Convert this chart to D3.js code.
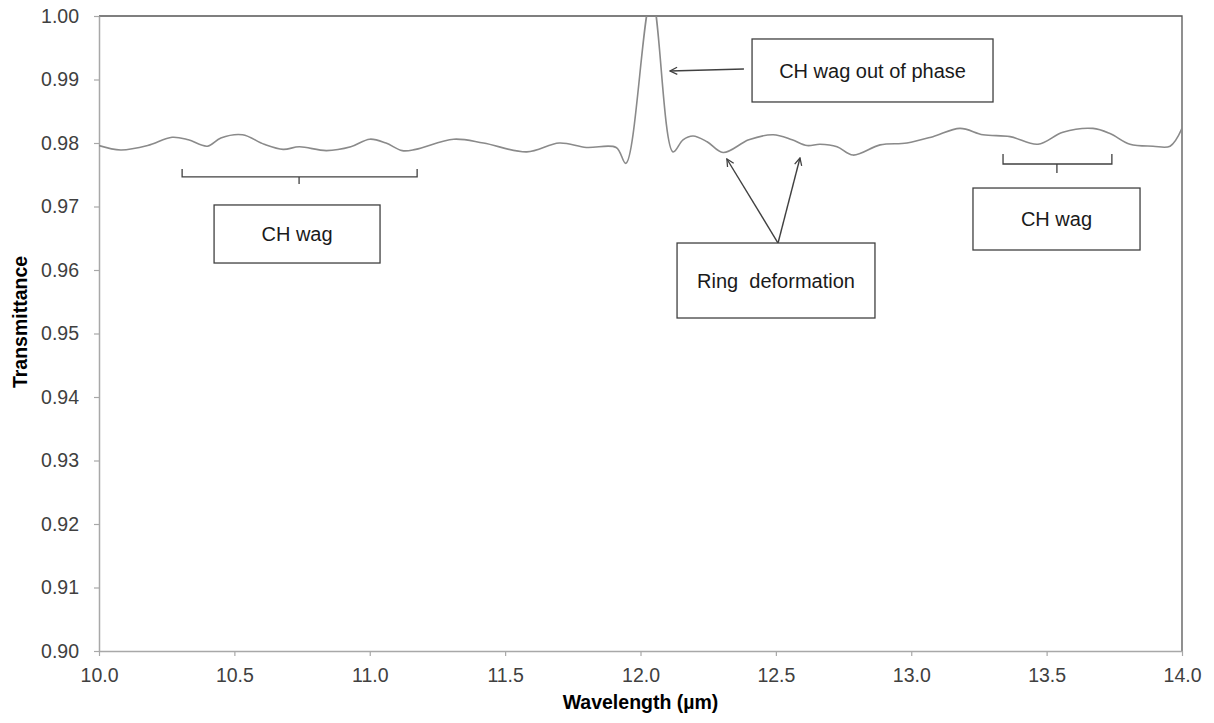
<!DOCTYPE html>
<html>
<head>
<meta charset="utf-8">
<script src="https://cdn.jsdelivr.net/npm/d3@7"></script>
<style>
  html, body { margin: 0; padding: 0; background: #fff; }
  svg { display: block; font-family: "Liberation Sans", Arial, sans-serif; }
</style>
</head>
<body>
<svg id="chart" width="1214" height="723"></svg>
<script>
// IR transmittance spectrum, 10–14 µm
const wavelength = [
  10.00, 10.08, 10.18, 10.27, 10.33, 10.40, 10.45, 10.53, 10.61, 10.68,
  10.74, 10.84, 10.93, 11.00, 11.06, 11.12, 11.17, 11.31, 11.42, 11.58,
  11.70, 11.80, 11.91, 11.946, 12.041, 12.12, 12.157, 12.194, 12.246, 12.305,
  12.40, 12.49, 12.56, 12.615, 12.663, 12.726, 12.785, 12.885, 12.984, 13.08,
  13.18, 13.265, 13.365, 13.468, 13.56, 13.671, 13.734, 13.808, 13.893, 13.956,
  14.00
];
const transmittance = [
  0.9796, 0.9789, 0.9796, 0.9809, 0.9805, 0.9795, 0.9808, 0.9813, 0.9798, 0.9790,
  0.9794, 0.9788, 0.9794, 0.9806, 0.9800, 0.9788, 0.9790, 0.9806, 0.9800, 0.9786,
  0.9800, 0.9793, 0.9793, 0.9768, 1.0030, 0.9786, 0.9805, 0.9811, 0.9802, 0.9785,
  0.9805, 0.9813, 0.9805, 0.9796, 0.9798, 0.9794, 0.9781, 0.9797, 0.9800, 0.9810,
  0.9823, 0.9813, 0.9810, 0.9798, 0.9817, 0.9823, 0.9815, 0.9798, 0.9795, 0.9795,
  0.9823
];
const xTicks = [10.0, 10.5, 11.0, 11.5, 12.0, 12.5, 13.0, 13.5, 14.0];
const yTicks = [0.90, 0.91, 0.92, 0.93, 0.94, 0.95, 0.96, 0.97, 0.98, 0.99, 1.00];

// Band assignments (boxes, brackets and arrows in data units)
const boxLabels = ["CH wag out of phase", "CH wag", "CH wag", "Ring  deformation"];
const boxX = [[12.412, 13.302], [10.425, 11.038], [13.228, 13.845], [12.135, 12.866]];
const boxY = [[0.99638, 0.98646], [0.97024, 0.96110], [0.97291, 0.96315], [0.96425, 0.95244]];
const bracketX = [[10.307, 11.175, 10.739], [13.339, 13.741, 13.538]];
const bracketY = [[0.97591, 0.97465, 0.97354], [0.97827, 0.97669, 0.97528]];
const arrowFrom = [[12.382, 0.99165], [12.508, 0.96425], [12.508, 0.96425]];
const arrowTo = [[12.109, 0.99134], [12.319, 0.97748], [12.589, 0.97764]];

const svg = d3.select("#chart");
const L = 99, R = 1182, T = 16, B = 651;

const x = d3.scaleLinear().domain([10, 14]).range([L, R]);
const y = d3.scaleLinear().domain([0.90, 1.00]).range([B, T]);

svg.append("defs").append("clipPath").attr("id", "plot")
  .append("rect").attr("x", L).attr("y", T).attr("width", R - L).attr("height", B - T);

svg.select("defs").append("marker")
  .attr("id", "open-arrow")
  .attr("viewBox", "0 0 10 10")
  .attr("refX", 9).attr("refY", 5)
  .attr("markerWidth", 9).attr("markerHeight", 9)
  .attr("markerUnits", "userSpaceOnUse")
  .attr("orient", "auto")
  .append("path")
  .attr("d", "M1,1 L9,5 L1,9")
  .attr("fill", "none").attr("stroke", "#404040").attr("stroke-width", 1.4);

// plot-area frame (top and right)
svg.append("path")
  .attr("d", `M${L},${T}H${R}V${B}`)
  .attr("fill", "none").attr("stroke", "#555").attr("stroke-width", 1.3);

// axes
const xAxis = svg.append("g").attr("transform", `translate(0,${B})`)
  .call(d3.axisBottom(x).tickValues(xTicks).tickFormat(d3.format(".1f"))
    .tickSizeInner(5).tickSizeOuter(0).tickPadding(12));
const yAxis = svg.append("g").attr("transform", `translate(${L},0)`)
  .call(d3.axisLeft(y).tickValues(yTicks).tickFormat(d3.format(".2f"))
    .tickSizeInner(5).tickSizeOuter(0).tickPadding(15));

[xAxis, yAxis].forEach(g => {
  g.select(".domain").attr("stroke", "#a8a8a8").attr("stroke-width", 1.5);
  g.selectAll(".tick line").attr("stroke", "#a8a8a8").attr("stroke-width", 1.2);
  g.selectAll(".tick text").attr("fill", "#404040")
    .style("font-size", "19.5px").style("font-family", "'Liberation Sans', Arial, sans-serif");
});

// axis titles
svg.append("text")
  .attr("x", (L + R) / 2).attr("y", 709)
  .attr("text-anchor", "middle")
  .style("font-size", "19.5px").style("font-weight", "bold").attr("fill", "#000")
  .text("Wavelength (µm)");
svg.append("text")
  .attr("transform", `translate(27,${322}) rotate(-90)`)
  .attr("text-anchor", "middle")
  .style("font-size", "19.5px").style("font-weight", "bold").attr("fill", "#000")
  .text("Transmittance");

// spectrum
const pts = wavelength.map((w, i) => [w, transmittance[i]]);
svg.append("path")
  .datum(pts)
  .attr("clip-path", "url(#plot)")
  .attr("fill", "none")
  .attr("stroke", "#8a8a8a")
  .attr("stroke-width", 1.6)
  .attr("d", d3.line().x(d => x(d[0])).y(d => y(d[1])).curve(d3.curveCatmullRom.alpha(0.5)));

// brackets
bracketX.forEach((bx, i) => {
  const by = bracketY[i];
  svg.append("path")
    .attr("d", `M${x(bx[0])},${y(by[0])}V${y(by[1])}H${x(bx[1])}V${y(by[0])}` +
               `M${x(bx[2])},${y(by[1])}V${y(by[2])}`)
    .attr("fill", "none").attr("stroke", "#404040").attr("stroke-width", 1.3);
});

// arrows
arrowFrom.forEach((f, i) => {
  const t = arrowTo[i];
  svg.append("line")
    .attr("x1", x(f[0])).attr("y1", y(f[1]))
    .attr("x2", x(t[0])).attr("y2", y(t[1]))
    .attr("stroke", "#404040").attr("stroke-width", 1.4)
    .attr("marker-end", "url(#open-arrow)");
});

// label boxes
boxLabels.forEach((lab, i) => {
  const x0 = x(boxX[i][0]), x1 = x(boxX[i][1]);
  const y0 = y(boxY[i][0]), y1 = y(boxY[i][1]);
  svg.append("rect")
    .attr("x", x0).attr("y", y0).attr("width", x1 - x0).attr("height", y1 - y0)
    .attr("fill", "#fff").attr("stroke", "#404040").attr("stroke-width", 1.3);
  svg.append("text")
    .attr("x", (x0 + x1) / 2).attr("y", (y0 + y1) / 2)
    .attr("dy", "0.36em")
    .attr("text-anchor", "middle")
    .attr("xml:space", "preserve")
    .style("white-space", "pre")
    .style("font-size", "20px").attr("fill", "#1a1a1a")
    .text(lab);
});
</script>
</body>
</html>
